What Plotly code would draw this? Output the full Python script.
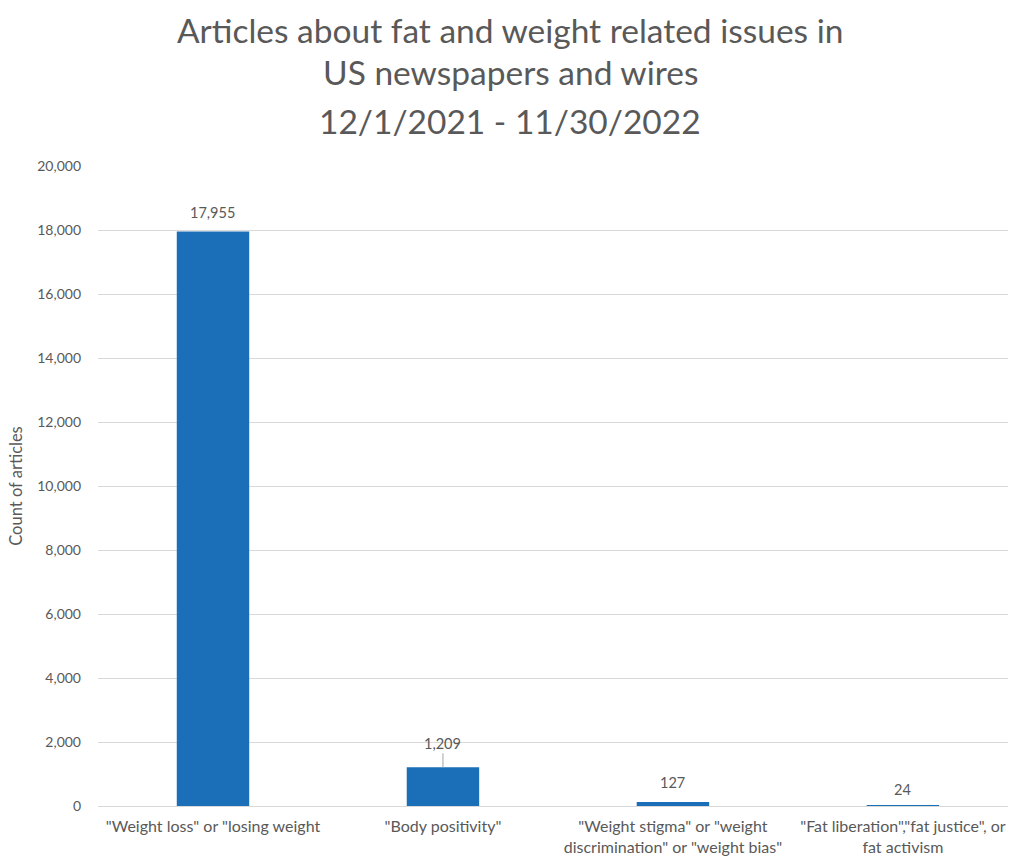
import plotly.graph_objects as go

categories = [
    '"Weight loss" or "losing weight',
    '"Body positivity"',
    '"Weight stigma" or "weight<br>discrimination" or "weight bias"',
    '"Fat liberation","fat justice", or<br>fat activism',
]
counts = [17955, 1209, 127, 24]
count_labels = ["17,955", "1,209", "127", "24"]
label_shift = [19, 24, 19, 16]
y_ticks = [0, 2000, 4000, 6000, 8000, 10000, 12000, 14000, 16000, 18000, 20000]
title_lines = [
    "Articles about fat and weight related issues in",
    "US newspapers and wires",
    "12/1/2021 - 11/30/2022",
]
title_shift = [136, 94, 45]

GRAY = "#595959"
FONT = "Lato, Carlito, Calibri, sans-serif"

fig = go.Figure()
fig.add_trace(go.Bar(
    x=categories, y=counts,
    marker=dict(color="#1b6fb8", line=dict(width=0)),
    width=0.315,
    hoverinfo="skip",
))

for i, (c, v, lab, s) in enumerate(zip(categories, counts, count_labels, label_shift)):
    if i == 1:
        fig.add_annotation(x=c, y=v, text=lab, showarrow=True, arrowhead=0,
                           arrowwidth=1, arrowcolor="#a6a6a6", ax=0, ay=-s,
                           font=dict(size=14.5, color=GRAY, family=FONT))
    else:
        fig.add_annotation(x=c, y=v, text=lab, showarrow=False, yshift=s,
                           font=dict(size=14.5, color=GRAY, family=FONT))

for line, sh in zip(title_lines, title_shift):
    fig.add_annotation(text=line, xref="paper", yref="paper", x=0.453, y=1,
                       xanchor="center", yanchor="middle", yshift=sh,
                       showarrow=False,
                       font=dict(size=33.5, color=GRAY, family=FONT))

fig.update_layout(
    width=1010, height=857,
    margin=dict(l=98, r=2, t=166, b=51),
    paper_bgcolor="white", plot_bgcolor="white",
    showlegend=False,
    font=dict(family=FONT, color=GRAY),
)
fig.update_xaxes(
    type="category", range=[-0.5, 3.457],
    showgrid=False, showline=False, zeroline=False, ticks="",
    ticklabelstandoff=9,
    tickfont=dict(size=16, color=GRAY, family=FONT),
)
fig.update_yaxes(
    range=[0, 20000], tickvals=y_ticks,
    ticktext=[f"{t:,}" for t in y_ticks],
    showgrid=True, gridcolor="#d9d9d9", gridwidth=1,
    zeroline=True, zerolinecolor="#d9d9d9", zerolinewidth=1,
    showline=False, ticks="", ticklabelstandoff=16,
    tickfont=dict(size=14, color=GRAY, family=FONT),
    title=dict(text="Count of articles", font=dict(size=16.5, color=GRAY, family=FONT), standoff=10),
)

fig.write_html("out.html")
